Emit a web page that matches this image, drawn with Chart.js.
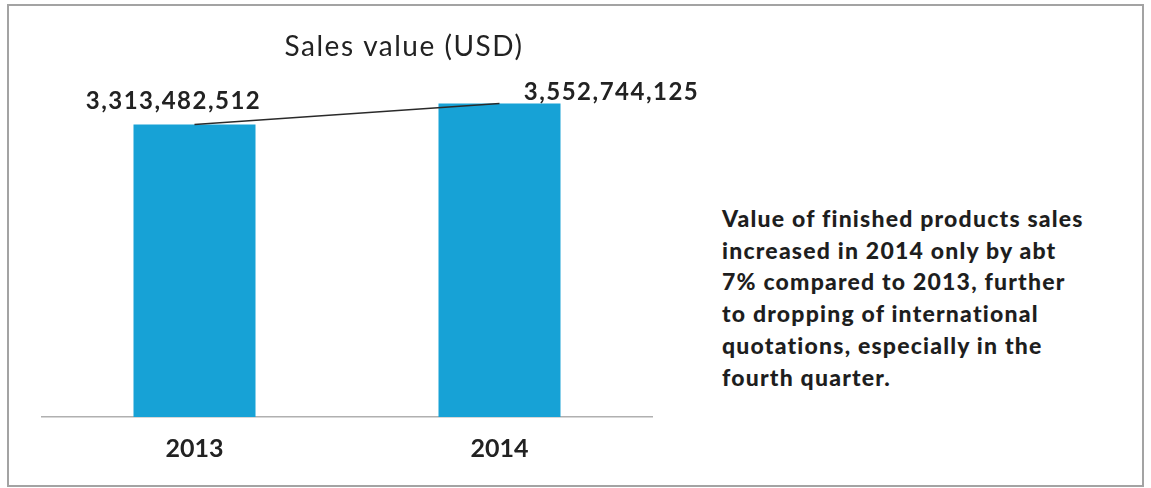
<!DOCTYPE html>
<html>
<head>
<meta charset="utf-8">
<script src="https://cdn.jsdelivr.net/npm/chart.js@4"></script>
<style>
  body { margin: 0; background: #fff; }
  #frame { position: absolute; left: 7px; top: 4px; width: 1133px; height: 479px; border: 2px solid #a3a3a3; }
  #wrap { position: absolute; left: 0; top: 0; width: 700px; height: 488px; }
  #note { position: absolute; left: 722px; top: 203px; font: 900 23px Lato, sans-serif; letter-spacing: 1.2px; color: #1e1e1e; line-height: 31.7px; }
</style>
</head>
<body>
<div id="frame"></div>
<div id="wrap"><canvas id="salesChart"></canvas></div>
<div id="note">Value of finished products sales<br>increased in 2014 only by abt<br>7% compared to 2013, further<br>to dropping of international<br>quotations, especially in the<br>fourth quarter.</div>
<script>
var years = ['2013', '2014'];
var salesUSD = [3313482512, 3552744125];

// value labels sit beside the bar tops, not centred
var labelShift = [[-21, -16], [112, -3]];

var chartText = {
    id: 'chartText',
    afterDatasetsDraw: function(chart) {
        var ctx = chart.ctx;
        var area = chart.chartArea;
        var meta = chart.getDatasetMeta(1);
        ctx.save();
        ctx.fillStyle = '#222';
        ctx.textAlign = 'center';
        ctx.textBaseline = 'alphabetic';

        ctx.font = '28px Lato, sans-serif';
        ctx.letterSpacing = '1.5px';
        ctx.fillText('Sales value (USD)', (area.left + area.right) / 2 + 57, 56);

        ctx.font = 'bold 24px Lato, sans-serif';
        meta.data.forEach(function(bar, i) {
            var txt = salesUSD[i].toLocaleString('en-US');
            ctx.fillText(txt, bar.x + labelShift[i][0], bar.y + labelShift[i][1]);
        });
        ctx.restore();
    }
};

var ctx = document.getElementById('salesChart').getContext('2d');
var salesChart = new Chart(ctx, {
    type: 'bar',
    data: {
        labels: years,
        datasets: [{
            type: 'line',
            data: salesUSD,
            borderColor: '#2a2a2a',
            borderWidth: 1.5,
            pointRadius: 0,
            order: 0
        }, {
            data: salesUSD,
            backgroundColor: '#17a2d6',
            barPercentage: 0.4,
            categoryPercentage: 1,
            order: 1
        }]
    },
    options: {
        responsive: true,
        maintainAspectRatio: false,
        animation: false,
        layout: { padding: { left: 42, right: 48, top: 64, bottom: 7 } },
        plugins: {
            legend: { display: false },
            tooltip: { enabled: false }
        },
        scales: {
            x: {
                offset: true,
                grid: { display: false, drawTicks: false },
                border: { color: '#b0b0b0', width: 1.5 },
                ticks: { color: '#222', font: { family: 'Lato, sans-serif', size: 25, weight: 'bold' }, padding: 17 }
            },
            y: {
                display: false,
                min: 0,
                max: 4000000000
            }
        }
    },
    plugins: [chartText]
});
</script>
</body>
</html>
